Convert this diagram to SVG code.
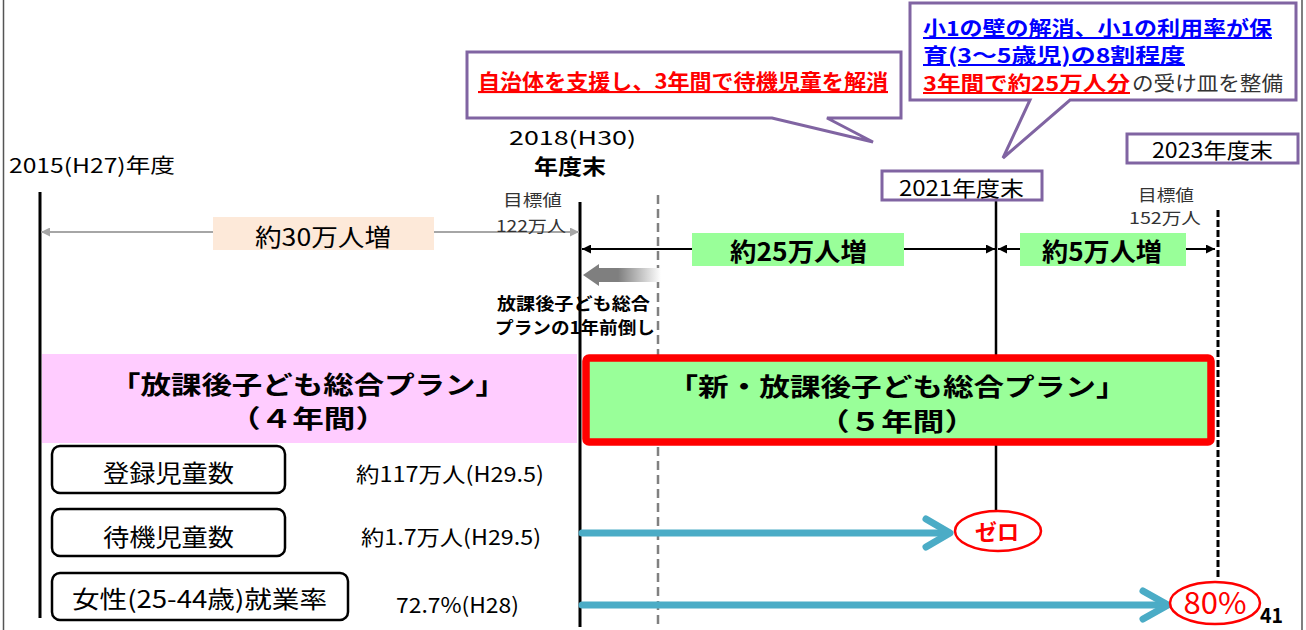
<svg xmlns="http://www.w3.org/2000/svg" width="1306" height="630" viewBox="0 0 1306 630">
<defs>
<style>
text{font-family:"Noto Sans CJK JP","Noto Sans",sans-serif;fill:#000}
.b{font-weight:bold}
.call{fill:#fff;stroke:#8064a2;stroke-width:3}
.ul{text-decoration:underline}
.rbox{fill:#fff;stroke:#000;stroke-width:2.5}
.teal{stroke:#4bacc6;stroke-width:7;fill:none;stroke-linecap:round;stroke-linejoin:round}
.ell{fill:#fff;stroke:#ff0000;stroke-width:2.5}
</style>
<marker id="ab" viewBox="0 0 10 10" refX="10" refY="5" markerWidth="11" markerHeight="9" markerUnits="userSpaceOnUse" orient="auto-start-reverse"><path d="M0,0L10,5L0,10z" fill="#000"/></marker>
<marker id="ag" viewBox="0 0 10 10" refX="10" refY="5" markerWidth="11" markerHeight="9" markerUnits="userSpaceOnUse" orient="auto-start-reverse"><path d="M0,0L10,5L0,10z" fill="#a6a6a6"/></marker>
<linearGradient id="gf" gradientUnits="userSpaceOnUse" x1="583" y1="0" x2="661" y2="0"><stop offset="0" stop-color="#7f7f7f"/><stop offset="0.45" stop-color="#7f7f7f"/><stop offset="1" stop-color="#fff"/></linearGradient>
</defs>
<rect x="0" y="0" width="1306" height="630" fill="#fff"/>
<line x1="3.5" y1="0" x2="3.5" y2="630" stroke="#555" stroke-width="1.5"/>
<line x1="1302" y1="0" x2="1302" y2="630" stroke="#555" stroke-width="1.5"/>

<g id="timeline-lines">
<line x1="40" y1="192" x2="40" y2="618" stroke="#000" stroke-width="3"/>
<line x1="580" y1="202" x2="580" y2="627" stroke="#000" stroke-width="3"/>
<line x1="658" y1="195" x2="658" y2="625" stroke="#808080" stroke-width="2.5" stroke-dasharray="9 5"/>
<line x1="996" y1="200" x2="996" y2="510" stroke="#000" stroke-width="2.5"/>
<line x1="1218" y1="210" x2="1218" y2="580" stroke="#000" stroke-width="3" stroke-dasharray="7 3"/>
</g>

<g id="connectors">
<line x1="41" y1="232" x2="579" y2="232" stroke="#a6a6a6" stroke-width="2" marker-start="url(#ag)" marker-end="url(#ag)"/>
<line x1="582" y1="249" x2="995" y2="249" stroke="#000" stroke-width="2" marker-start="url(#ab)" marker-end="url(#ab)"/>
<line x1="998" y1="249" x2="1215" y2="249" stroke="#000" stroke-width="2" marker-start="url(#ab)" marker-end="url(#ab)"/>
<polygon points="583,275 599,264 599,268 661,268 661,282 599,282 599,286" fill="url(#gf)"/>
<line x1="582" y1="533" x2="948" y2="533" class="teal"/>
<polyline points="926,519 950,533 926,547" class="teal"/>
<line x1="582" y1="605" x2="1166" y2="605" class="teal"/>
<polyline points="1143,591 1168,605 1143,619" class="teal"/>
</g>

<g id="callout-1">
<path d="M467,52H901V118H827L873,142L772,118H467Z" class="call"/>
<text x="478" y="89" font-size="21" class="b ul" style="fill:#ff0000" textLength="410" lengthAdjust="spacingAndGlyphs">自治体を支援し、3年間で待機児童を解消</text>
</g>

<g id="callout-2">
<path d="M910,3H1296V100H1070L1003,158L1030,100H910Z" class="call"/>
<text x="923" y="36" font-size="20" class="b ul" style="fill:#0000ff" textLength="349" lengthAdjust="spacingAndGlyphs">小1の壁の解消、小1の利用率が保</text>
<text x="923" y="63" font-size="20" class="b ul" style="fill:#0000ff" textLength="262" lengthAdjust="spacingAndGlyphs">育(3〜5歳児)の8割程度</text>
<text x="923" y="91" font-size="20" class="b ul" style="fill:#ff0000" textLength="207" lengthAdjust="spacingAndGlyphs">3年間で約25万人分</text>
<text x="1132" y="91" font-size="20" style="fill:#333" textLength="151" lengthAdjust="spacingAndGlyphs">の受け皿を整備</text>
</g>

<g id="label-2015">
<text x="9" y="173" font-size="20" textLength="166" lengthAdjust="spacingAndGlyphs">2015(H27)年度</text>
</g>

<g id="label-2018">
<text x="509" y="145" font-size="19" textLength="127" lengthAdjust="spacingAndGlyphs">2018(H30)</text>
<text x="534" y="174" font-size="21" class="b" textLength="72" lengthAdjust="spacingAndGlyphs">年度末</text>
<text x="503" y="206" font-size="16" style="fill:#333" textLength="59" lengthAdjust="spacingAndGlyphs">目標値</text>
<text x="496" y="232" font-size="16" style="fill:#333" textLength="70" lengthAdjust="spacingAndGlyphs">122万人</text>
</g>

<g id="label-2021">
<rect x="882" y="171" width="160" height="29" class="call"/>
<text x="899" y="196" font-size="21" textLength="125" lengthAdjust="spacingAndGlyphs">2021年度末</text>
</g>

<g id="label-2023">
<rect x="1127" y="134" width="171" height="29" class="call"/>
<text x="1152" y="158" font-size="21" textLength="121" lengthAdjust="spacingAndGlyphs">2023年度末</text>
<text x="1138" y="201" font-size="16" style="fill:#333" textLength="56" lengthAdjust="spacingAndGlyphs">目標値</text>
<text x="1129" y="224" font-size="16" style="fill:#333" textLength="72" lengthAdjust="spacingAndGlyphs">152万人</text>
</g>

<g id="increase-30">
<rect x="213" y="217" width="221" height="33" fill="#fde9d9"/>
<text x="255" y="246" font-size="24" textLength="136" lengthAdjust="spacingAndGlyphs">約30万人増</text>
</g>

<g id="increase-25">
<rect x="692" y="233" width="212" height="33" fill="#99ff99"/>
<text x="730" y="261" font-size="25" class="b" textLength="137" lengthAdjust="spacingAndGlyphs">約25万人増</text>
</g>

<g id="increase-5">
<rect x="1020" y="233" width="166" height="33" fill="#99ff99"/>
<text x="1042" y="261" font-size="25" class="b" textLength="120" lengthAdjust="spacingAndGlyphs">約5万人増</text>
</g>

<g id="advance-note">
<text x="497" y="310" font-size="17" class="b" textLength="153" lengthAdjust="spacingAndGlyphs">放課後子ども総合</text>
<text x="495" y="334" font-size="17" class="b" textLength="160" lengthAdjust="spacingAndGlyphs">プランの1年前倒し</text>
</g>

<g id="plan-old">
<rect x="42" y="354" width="535" height="89" fill="#ffccff"/>
<text x="308" y="394" font-size="25" class="b" text-anchor="middle" textLength="396" lengthAdjust="spacingAndGlyphs">「放課後子ども総合プラン」</text>
<text x="308" y="428" font-size="25" class="b" text-anchor="middle" textLength="158" lengthAdjust="spacingAndGlyphs">（４年間）</text>
</g>

<g id="plan-new">
<rect x="586" y="358" width="625" height="84" rx="3" fill="#99ff99" stroke="#ff0000" stroke-width="7.5"/>
<text x="897" y="396" font-size="25" class="b" text-anchor="middle" textLength="459" lengthAdjust="spacingAndGlyphs">「新・放課後子ども総合プラン」</text>
<text x="897" y="431" font-size="25" class="b" text-anchor="middle" textLength="158" lengthAdjust="spacingAndGlyphs">（５年間）</text>
</g>

<g id="row-registered">
<rect x="52" y="446" width="233" height="47" rx="8" class="rbox"/>
<text x="103" y="482" font-size="24" textLength="131" lengthAdjust="spacingAndGlyphs">登録児童数</text>
<text x="356" y="482" font-size="21" textLength="188" lengthAdjust="spacingAndGlyphs">約117万人(H29.5)</text>
</g>

<g id="row-waiting">
<rect x="52" y="509" width="233" height="47" rx="8" class="rbox"/>
<text x="103" y="546" font-size="24" textLength="131" lengthAdjust="spacingAndGlyphs">待機児童数</text>
<text x="361" y="545" font-size="21" textLength="180" lengthAdjust="spacingAndGlyphs">約1.7万人(H29.5)</text>
</g>

<g id="row-employment">
<rect x="52" y="573" width="296" height="47" rx="8" class="rbox"/>
<text x="72" y="608" font-size="24" textLength="255" lengthAdjust="spacingAndGlyphs">女性(25-44歳)就業率</text>
<text x="396" y="613" font-size="21" textLength="123" lengthAdjust="spacingAndGlyphs">72.7%(H28)</text>
</g>

<g id="target-zero">
<ellipse cx="998" cy="531" rx="43" ry="20" class="ell"/>
<text x="997" y="540" font-size="22" class="b" text-anchor="middle" style="fill:#ff0000">ゼロ</text>
</g>

<g id="target-80">
<ellipse cx="1215" cy="603" rx="45" ry="21" class="ell"/>
<text x="1215" y="614" font-size="30" text-anchor="middle" style="fill:#ff0000" textLength="63" lengthAdjust="spacingAndGlyphs">80%</text>
</g>

<g id="page-number">
<text x="1260" y="623" font-size="21" class="b" textLength="23" lengthAdjust="spacingAndGlyphs">41</text>
</g>
</svg>
